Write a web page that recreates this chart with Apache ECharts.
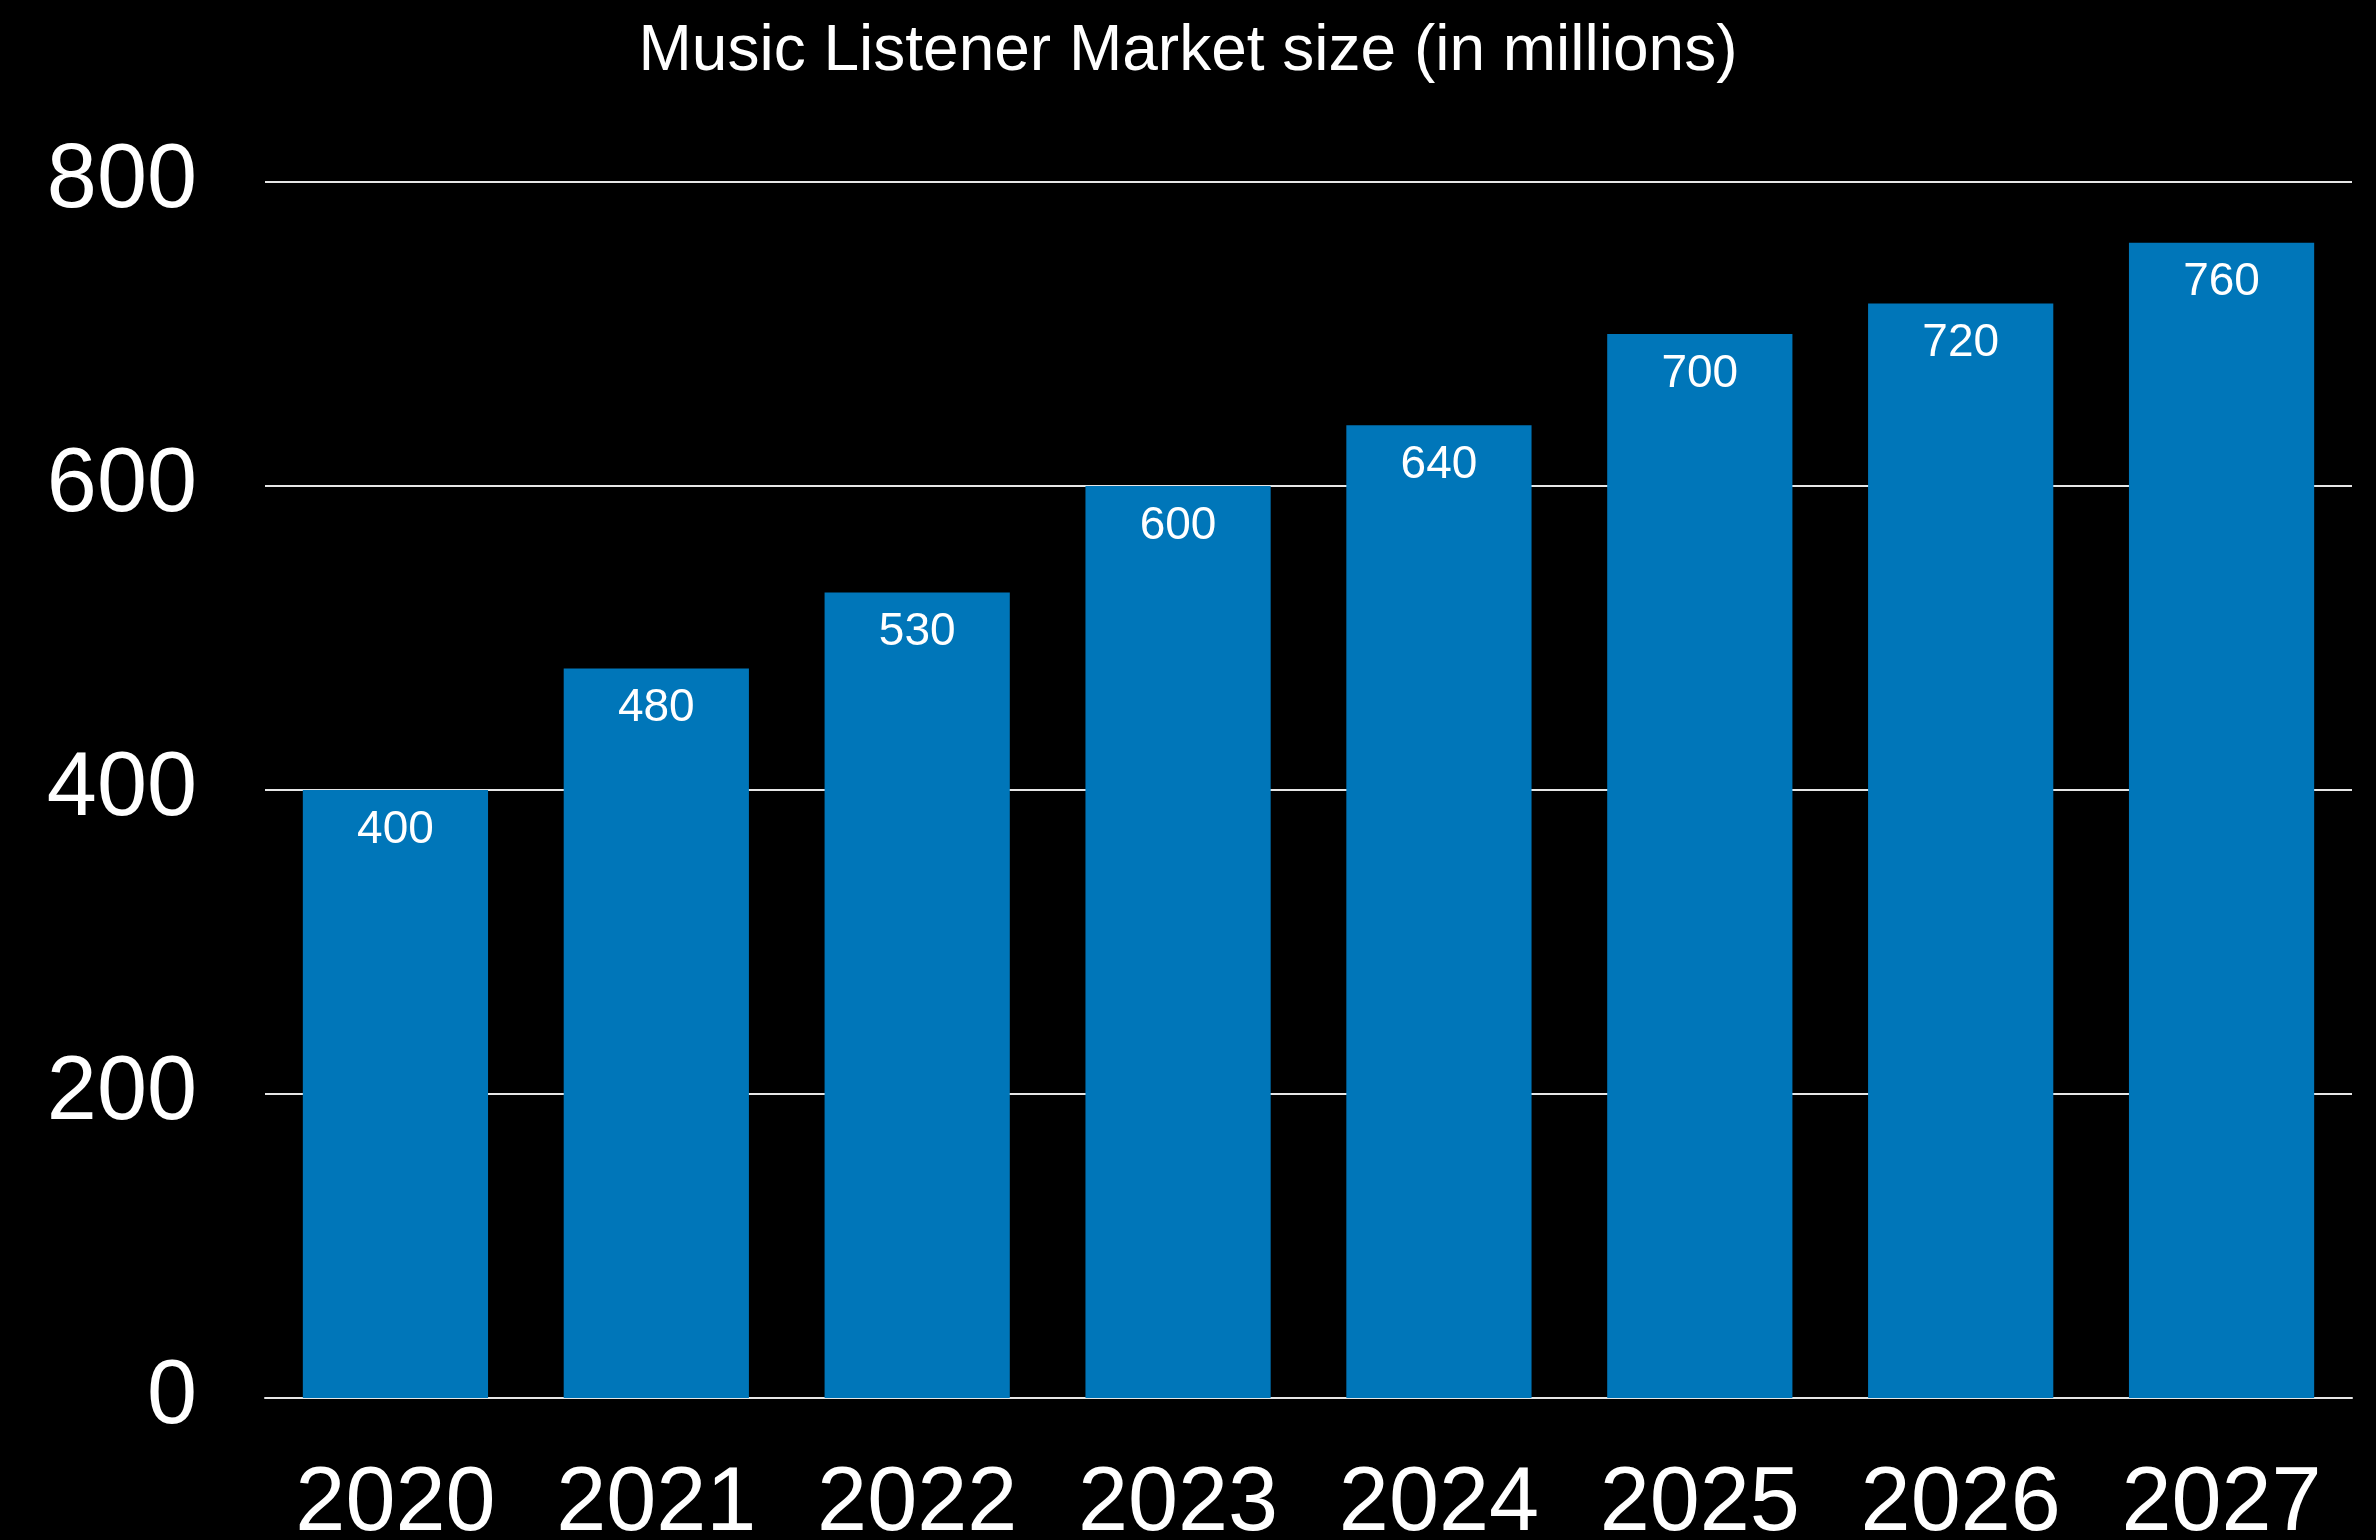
<!DOCTYPE html>
<html>
<head>
<meta charset="utf-8">
<style>
  html, body { margin: 0; padding: 0; background: #000; }
  #chart { width: 2376px; height: 1540px; }
</style>
<script src="https://cdn.jsdelivr.net/npm/echarts@6/dist/echarts.min.js"></script>
</head>
<body>
<div id="chart"></div>
<script>
const years = ['2020', '2021', '2022', '2023', '2024', '2025', '2026', '2027']
const listeners = [400, 480, 530, 600, 640, 700, 720, 760]
const yTicks = [0, 200, 400, 600, 800]

const font = '"Liberation Sans", Arial, Helvetica, sans-serif'

const chart = echarts.init(document.getElementById('chart'))
chart.setOption({
  backgroundColor: '#000',
  animation: false,
  title: {
    text: 'Music Listener Market size (in millions)',
    left: 'center',
    top: 15,
    textStyle: { color: '#fff', fontSize: 64, fontWeight: 'normal', fontFamily: font }
  },
  grid: {
    left: 265,
    right: 24,
    top: 182,
    bottom: 142,
    containLabel: false,
    outerBoundsMode: 'none'
  },
  xAxis: {
    type: 'category',
    data: years,
    axisLine: { lineStyle: { color: '#e6e6e6', width: 2 } },
    axisTick: { show: false },
    axisLabel: { color: '#fff', fontSize: 90, fontFamily: font, margin: 62 }
  },
  yAxis: {
    type: 'value',
    min: yTicks[0],
    max: yTicks[yTicks.length - 1],
    interval: 200,
    axisLine: { show: false },
    axisTick: { show: false },
    splitLine: { lineStyle: { color: '#e6e6e6', width: 2 } },
    axisLabel: { color: '#fff', fontSize: 90, fontFamily: font, margin: 68, padding: [12, 0, 0, 0] }
  },
  series: [{
    name: 'Listeners',
    type: 'bar',
    data: listeners,
    barCategoryGap: '29%',
    itemStyle: { color: '#0076b9' },
    label: {
      show: true,
      position: 'insideTop',
      distance: 17,
      color: '#fff',
      fontSize: 46,
      fontFamily: font
    }
  }]
})
</script>
</body>
</html>
